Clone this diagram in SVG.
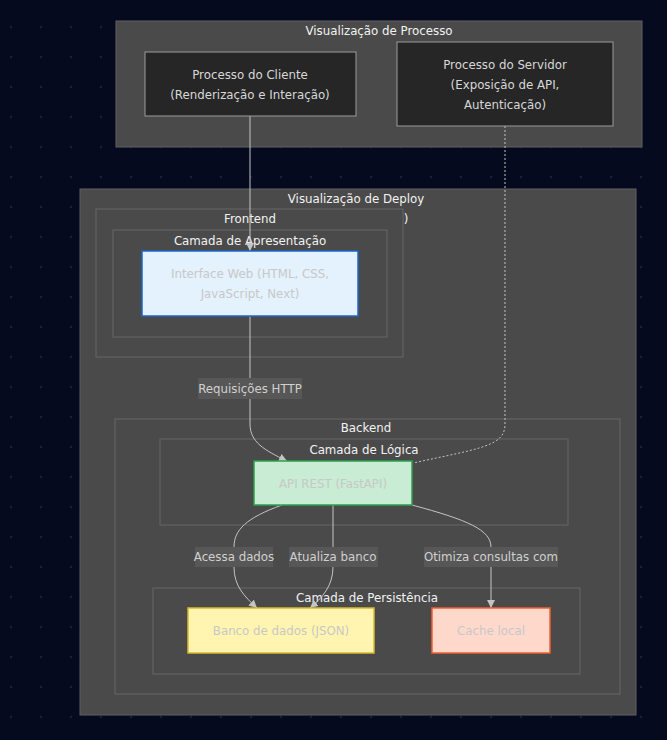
<svg xmlns="http://www.w3.org/2000/svg" width="667" height="740" viewBox="0 0 667 740">
<style>
text{font-family:"DejaVu Sans",Verdana,sans-serif;font-size:11.8px;text-anchor:middle}
.ct{fill:#f2f2f2}
.nt{fill:#d8d8d8}
.lt{fill:#c8c8c8}
.el{fill:#d0d0d0}
.cl{fill:#4a4a4a;stroke:#5e5e5e;stroke-width:1}
.ci{fill:#4a4a4a;stroke:#666666;stroke-width:1}
.pn{fill:#262626;stroke:#9a9a9a;stroke-width:1}
.lb{fill:#575757}
.e{fill:none;stroke:#c4c4c4;stroke-width:1}
.d{stroke-dasharray:2,2}
</style>
<defs>
<pattern id="dots" patternUnits="userSpaceOnUse" width="30" height="30">
<circle cx="11" cy="27" r="1.2" fill="#1b1f30"/>
</pattern>
<marker id="ah" viewBox="0 0 10 10" refX="10" refY="5" markerUnits="userSpaceOnUse" markerWidth="8" markerHeight="8" orient="auto">
<path d="M0,0 L10,5 L0,10 z" fill="#c4c4c4"/>
</marker>
</defs>
<rect width="667" height="740" fill="#060a1e"/>
<rect width="667" height="740" fill="url(#dots)"/>

<g id="cluster-processo">
<rect class="cl" x="116" y="21" width="526" height="126"/>
<text class="ct" x="379" y="35">Visualização de Processo</text>
</g>
<g id="cluster-deploy">
<rect class="cl" x="80" y="189" width="556" height="526"/>
<text class="ct" x="356" y="203">Visualização de Deploy</text>
</g>
<g id="cluster-frontend">
<rect class="ci" x="96" y="209" width="307" height="148"/>
<text class="ct" x="250" y="223">Frontend</text>
<text class="ct" x="406" y="223">)</text>
</g>
<g id="cluster-apresentacao">
<rect class="ci" x="113" y="230" width="274" height="107"/>
<text class="ct" x="250" y="245">Camada de Apresentação</text>
</g>
<g id="cluster-backend">
<rect class="ci" x="115" y="419" width="505" height="275"/>
<text class="ct" x="366" y="432">Backend</text>
</g>
<g id="cluster-logica">
<rect class="ci" x="160" y="439" width="408" height="86"/>
<text class="ct" x="364" y="454">Camada de Lógica</text>
</g>
<g id="cluster-persistencia">
<rect class="ci" x="153" y="588" width="427" height="86"/>
<text class="ct" x="367" y="602">Camada de Persistência</text>
</g>

<g id="connectors">
<path class="e" d="M250,116 V251" marker-end="url(#ah)"/>
<path class="e" d="M250,316 V424 C250,442 264,450 287,461" marker-end="url(#ah)"/>
<path class="e d" d="M505,126 V424 C505,446 482,448 413,463"/>
<path class="e" d="M282,505 C246,518 234,530 234,547 V567 C234,586 244,596 257,608" marker-end="url(#ah)"/>
<path class="e" d="M333,505 V567 C333,586 322,598 310,608" marker-end="url(#ah)"/>
<path class="e" d="M412,505 C468,520 491,530 491,547 V608" marker-end="url(#ah)"/>
<g id="label-http">
<rect class="lb" x="198" y="378" width="104" height="21"/>
<text class="el" x="250" y="393">Requisições HTTP</text>
</g>
<g id="label-acessa">
<rect class="lb" x="195" y="547" width="78" height="20"/>
<text class="el" x="234" y="561">Acessa dados</text>
</g>
<g id="label-atualiza">
<rect class="lb" x="289" y="547" width="89" height="20"/>
<text class="el" x="333" y="561">Atualiza banco</text>
</g>
<g id="label-otimiza">
<rect class="lb" x="424" y="547" width="134" height="20"/>
<text class="el" x="491" y="561">Otimiza consultas com</text>
</g>
</g>

<g id="node-cliente">
<rect class="pn" x="145" y="52" width="211" height="64"/>
<text class="nt" x="250" y="79">Processo do Cliente</text>
<text class="nt" x="250" y="99">(Renderização e Interação)</text>
</g>
<g id="node-servidor">
<rect class="pn" x="397" y="42" width="216" height="84"/>
<text class="nt" x="505" y="69">Processo do Servidor</text>
<text class="nt" x="505" y="89">(Exposição de API,</text>
<text class="nt" x="505" y="109">Autenticação)</text>
</g>
<g id="node-interface">
<rect x="142" y="251" width="216" height="65" fill="#e3f2fd" stroke="#1e64c8" stroke-width="1.5"/>
<text class="lt" x="250" y="278">Interface Web (HTML, CSS,</text>
<text class="lt" x="250" y="298">JavaScript, Next)</text>
</g>
<g id="node-api">
<rect x="254" y="461" width="158" height="44" fill="#c8ecd4" stroke="#2e9e4e" stroke-width="1.5"/>
<text class="lt" x="333" y="488">API REST (FastAPI)</text>
</g>
<g id="node-banco">
<rect x="188" y="608" width="186" height="45" fill="#fff5b0" stroke="#d8b830" stroke-width="1.5"/>
<text class="lt" x="281" y="635">Banco de dados (JSON)</text>
</g>
<g id="node-cache">
<rect x="432" y="608" width="118" height="45" fill="#ffd8cc" stroke="#f06030" stroke-width="1.5"/>
<text class="lt" x="491" y="635">Cache local</text>
</g>
</svg>
